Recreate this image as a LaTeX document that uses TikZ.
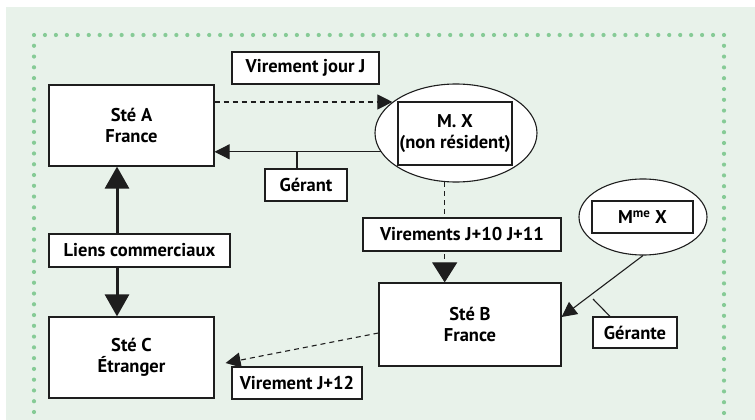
\documentclass[tikz,border=0pt]{standalone}
\usepackage{fontspec}
\setmainfont{PT Sans}
\usetikzlibrary{arrows.meta,shapes.geometric}
\definecolor{panel}{RGB}{232,242,234}
\definecolor{dotgreen}{RGB}{134,203,150}
\definecolor{ink}{RGB}{30,30,30}
\pgfdeclarelayer{back}
\pgfdeclarelayer{links}
\pgfsetlayers{back,links,main}
\tikzset{
  box/.style={draw=ink, line width=1.2pt, fill=white, rectangle, inner sep=0pt,
    align=center, font=\bfseries\fontsize{18.5}{20.5}\selectfont},
  person/.style={draw=ink, line width=1.1pt, fill=white, ellipse, inner sep=0pt},
  link/.style={draw=ink, line width=1.1pt},
  flow/.style={link, dash pattern=on 5pt off 4pt},
  tipS/.style={-{Triangle[length=15pt,width=15pt]}},
  tipL/.style={-{Triangle[length=20pt,width=25pt]}},
}
\begin{document}
\begin{tikzpicture}[x=1pt,y=-1pt]
\useasboundingbox (0,0) rectangle (755,420);
\begin{pgfonlayer}{back}
  \fill[white] (0,0) rectangle (755,420);
  \fill[panel] (6,7) rectangle (755,420);
  % dotted frame, open at the bottom
  \foreach \i in {0,...,63} \fill[dotgreen] ({34+\i*(690/63)},35) circle (2.1);
  \foreach \i in {1,...,35} \fill[dotgreen] (34,{35+\i*(377/35)}) circle (2.1);
  \foreach \i in {1,...,35} \fill[dotgreen] (724,{35+\i*(378/35)}) circle (2.1);
\end{pgfonlayer}

% companies and persons
\node[box, minimum width=165pt, minimum height=81pt] (staA) at (131.5,125.5) {Sté A\\France};
\node[box, minimum width=165pt, minimum height=81pt] (staC) at (131.5,357.5) {Sté C\\Étranger};
\node[box, minimum width=182pt, minimum height=83pt] (staB) at (470,324.5) {Sté B\\France};
\node[person, minimum width=162pt, minimum height=98pt] (mx) at (456,133) {};
\node[box, minimum width=114pt, minimum height=63pt] (mxbox) at (455,133.5) {M. X\\(non résident)};
\node[person, minimum width=128pt, minimum height=76pt] (mme) at (643,217) {};
\node[box, minimum width=101pt, minimum height=32pt] (mmebox) at (642.5,217) {M\textsuperscript{me} X};

% labels
\node[box, minimum width=147pt, minimum height=32pt] (virJ) at (305.5,68) {Virement jour J};
\node[box, minimum width=82pt, minimum height=32pt] (gerant) at (306,185) {Gérant};
\node[box, minimum width=181pt, minimum height=33pt] (liens) at (139.5,250.5) {Liens commerciaux};
\node[box, minimum width=198pt, minimum height=33pt] (virs) at (462,234.5) {Virements J+10 J+11};
\node[box, minimum width=84pt, minimum height=31pt] (gerante) at (635,332.5) {Gérante};
\node[box, minimum width=130pt, minimum height=32pt] (vir12) at (297,383) {Virement J+12};

\coordinate (gtick) at (593,299);

\begin{pgfonlayer}{links}
  % transfers
  \draw[flow, tipS] (staA.east |- mx.154) -- (mx.154);
  \draw[flow, tipL] (mx.257) -- (mx.257 |- staB.north);
  \draw[flow, tipS] ([yshift=-8.5pt]staB.west) -- ([xshift=11pt,yshift=-5.5pt]staC.east);
  % management
  \draw[link, tipS] (mx.194) -- (staA.east |- mx.194);
  \draw[link] ([xshift=-9pt]gerant.north) -- ([xshift=-9pt]gerant.north |- mx.194);
  \draw[link, tipS] (mme.south) -- ([yshift=7.5pt]staB.east);
  \draw[link] ([xshift=-25pt]gerante.north) -- (gtick);
  % business ties
  \draw[draw=ink, line width=3pt, {Triangle[length=22pt,width=24pt]}-{Triangle[length=22pt,width=24pt]}]
    ([xshift=-14.5pt]staA.south) -- ([xshift=-14.5pt]staC.north);
\end{pgfonlayer}
\end{tikzpicture}
\end{document}
